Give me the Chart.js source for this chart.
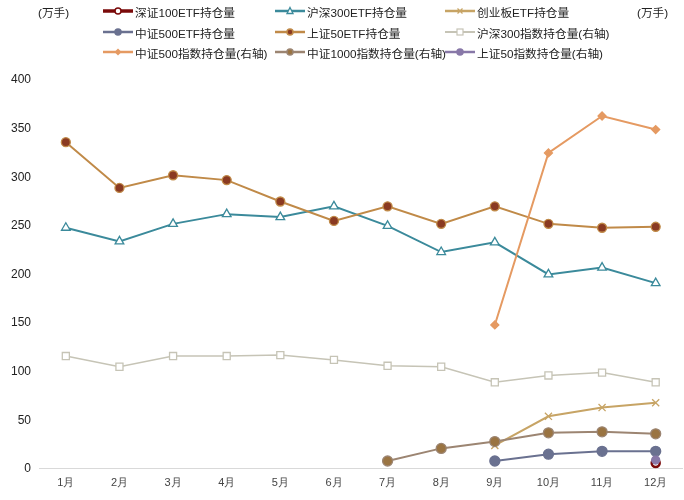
<!DOCTYPE html>
<html>
<head>
<meta charset="utf-8">
<script src="https://cdn.jsdelivr.net/npm/chart.js@4/dist/chart.umd.min.js"></script>
<style>
body { margin: 0; background: #fff; font-family: "Liberation Sans", "Noto Sans CJK SC", sans-serif; overflow: hidden; }
.wrap { position: relative; width: 684px; height: 500px; overflow: hidden; }
.legend { position: absolute; left: 0; top: 0; width: 684px; height: 66px; font-size: 11.7px; color: #222; z-index: 2; }
.item { position: absolute; display: flex; align-items: center; white-space: nowrap; height: 16px; }
.unit { position: absolute; font-size: 11.7px; color: #222; z-index: 2; }
#myChart { position: absolute; left: 0; top: 0; }
</style>
</head>
<body>
<div class="wrap">
  <canvas id="myChart" width="689" height="500"></canvas>
  <div class="unit" style="left:38px;top:3px">(万手)</div>
  <div class="unit" style="left:637px;top:3px">(万手)</div>
  <div class="legend" id="legend"></div>
</div>
<script>
const months = ['1月', '2月', '3月', '4月', '5月', '6月', '7月', '8月', '9月', '10月', '11月', '12月'];
const sz100Etf = [null, null, null, null, null, null, null, null, null, null, null, 6];
const hs300Etf = [248, 234, 252, 262, 259, 270, 250, 223, 233, 200, 207, 191];
const cybEtf = [null, null, null, null, null, null, null, null, 24, 54, 63, 68];
const zz500Etf = [null, null, null, null, null, null, null, null, 8, 15, 18, 18];
const sz50Etf = [336, 289, 302, 297, 275, 255, 270, 252, 270, 252, 248, 249];
const hs300Idx = [116, 105, 116, 116, 117, 112, 106, 105, 89, 96, 99, 89];
const zz500Idx = [null, null, null, null, null, null, null, null, 148, 325, 363, 349];
const zz1000Idx = [null, null, null, null, null, null, 8, 21, 28, 37, 38, 36];
const sz50Idx = [null, null, null, null, null, null, null, null, null, null, null, 9];

const series = [
    { label: '深证100ETF持仓量', data: sz100Etf, color: '#7a0a0a', fill: '#ffffff', style: 'circle', width: 3, r: 4, axis: 'y' },
    { label: '沪深300ETF持仓量', data: hs300Etf, color: '#3b8a9b', fill: '#ffffff', style: 'triangle', width: 2, r: 5, axis: 'y' },
    { label: '创业板ETF持仓量', data: cybEtf, color: '#c7a465', fill: '#c7a465', style: 'crossRot', width: 2, r: 5, axis: 'y' },
    { label: '中证500ETF持仓量', data: zz500Etf, color: '#6a7190', fill: '#6a7190', style: 'circle', width: 2, r: 5, axis: 'y' },
    { label: '上证50ETF持仓量', data: sz50Etf, color: '#c08a48', fill: '#8a3a22', style: 'circle', width: 2, r: 4.5, axis: 'y' },
    { label: '沪深300指数持仓量(右轴)', data: hs300Idx, color: '#c6c4b6', fill: '#ffffff', style: 'rect', width: 1.5, r: 5, axis: 'y1' },
    { label: '中证500指数持仓量(右轴)', data: zz500Idx, color: '#e59a62', fill: '#e59a62', style: 'rectRot', width: 2, r: 4, axis: 'y1' },
    { label: '中证1000指数持仓量(右轴)', data: zz1000Idx, color: '#9c8572', fill: '#9a7442', style: 'circle', width: 2, r: 5, axis: 'y1' },
    { label: '上证50指数持仓量(右轴)', data: sz50Idx, color: '#8878a8', fill: '#8878a8', style: 'circle', width: 2, r: 4, axis: 'y1' }
];

// legend (html)
const legendPos = [[103, 3], [275, 3], [445, 3], [103, 24], [275, 24], [445, 24], [103, 44], [275, 44], [445, 44]];
const legend = document.getElementById('legend');
series.forEach((s, i) => {
    let mark = '';
    if (s.style === 'circle') mark = `<circle cx="15" cy="8" r="3" fill="${s.fill}" stroke="${s.color}" stroke-width="1.5"/>`;
    if (s.style === 'triangle') mark = `<polygon points="15,4.5 18,10.5 12,10.5" fill="#fff" stroke="${s.color}" stroke-width="1.3"/>`;
    if (s.style === 'crossRot') mark = `<path d="M12.5,5.5 L17.5,10.5 M17.5,5.5 L12.5,10.5" stroke="${s.color}" stroke-width="1.3"/>`;
    if (s.style === 'rect') mark = `<rect x="12" y="5" width="6" height="6" fill="#fff" stroke="${s.color}" stroke-width="1.2"/>`;
    if (s.style === 'rectRot') mark = `<polygon points="15,4.5 18.5,8 15,11.5 11.5,8" fill="${s.color}"/>`;
    const el = document.createElement('div');
    el.className = 'item';
    el.style.left = legendPos[i][0] + 'px';
    el.style.top = legendPos[i][1] + 'px';
    el.innerHTML = `<svg width="30" height="16"><line x1="0" y1="8" x2="30" y2="8" stroke="${s.color}" stroke-width="${s.width + 0.5}"/>${mark}</svg><span style="margin-left:2px">${s.label}</span>`;
    legend.appendChild(el);
});

const ctx = document.getElementById('myChart');

new Chart(ctx, {
    type: 'line',
    data: {
        labels: months,
        datasets: series.map(s => ({
            label: s.label,
            data: s.data,
            yAxisID: s.axis,
            borderColor: s.color,
            backgroundColor: s.fill,
            borderWidth: s.width,
            pointStyle: s.style,
            pointRadius: s.r,
            pointBorderColor: s.color,
            pointBackgroundColor: s.fill,
            pointBorderWidth: s.style === 'circle' && s.fill === '#ffffff' ? 2.5 : 1.3,
            tension: 0,
            spanGaps: false
        })).reverse()
    },
    options: {
        responsive: false,
        animation: false,
        layout: { padding: { left: 3, right: 0, top: 80, bottom: 2 } },
        scales: {
            x: {
                offset: true,
                grid: { display: false, drawTicks: false },
                border: { color: '#d9d9d9', width: 1 },
                ticks: { color: '#444', font: { size: 11 }, padding: 8, maxRotation: 0 }
            },
            y: {
                min: 0,
                max: 400,
                grid: { display: false, drawTicks: false },
                border: { display: false },
                ticks: { stepSize: 50, color: '#222', font: { size: 12 }, padding: 8 }
            },
            y1: {
                position: 'right',
                min: 0,
                max: 400,
                display: false
            }
        },
        plugins: {
            legend: { display: false },
            tooltip: { enabled: false }
        }
    }
});
</script>
</body>
</html>
